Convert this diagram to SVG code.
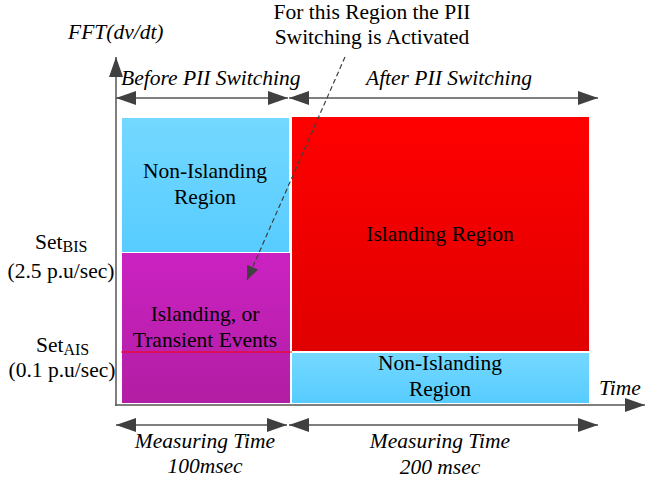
<svg xmlns="http://www.w3.org/2000/svg" width="662" height="480" viewBox="0 0 662 480">
<style>
text{font-family:"Liberation Serif","Times New Roman",serif;font-size:21.5px;fill:#000}
.it{font-style:italic}
.c{text-anchor:middle}
.ln{stroke:#555;stroke-width:1.5;fill:none}
</style>
<defs>
<linearGradient id="gb" x1="0" y1="0" x2="0" y2="1"><stop offset="0" stop-color="#74d8ff"/><stop offset="1" stop-color="#57ccff"/></linearGradient>
<linearGradient id="gm" x1="0" y1="0" x2="0" y2="1"><stop offset="0" stop-color="#cb22c2"/><stop offset="1" stop-color="#b21ea3"/></linearGradient>
<linearGradient id="gr" x1="0" y1="0" x2="0" y2="1"><stop offset="0" stop-color="#ff0000"/><stop offset="1" stop-color="#e00000"/></linearGradient>
<marker id="ah" viewBox="0 0 20 14" refX="20" refY="7" markerWidth="20" markerHeight="14" markerUnits="userSpaceOnUse" orient="auto-start-reverse"><path d="M0,0 L20,7 L0,14 Z" fill="#404040"/></marker>
<marker id="ad" viewBox="0 0 14 12" refX="14" refY="6" markerWidth="14" markerHeight="12" markerUnits="userSpaceOnUse" orient="auto"><path d="M0,0 L14,6 L0,12 Z" fill="#404040"/></marker>
</defs>
<g id="regions">
<g id="nonislanding-before"><rect x="122" y="118" width="167" height="134" fill="url(#gb)"/><text class="c" x="205" y="178">Non-Islanding</text><text class="c" x="205" y="204">Region</text></g>
<g id="islanding-transient"><rect x="122" y="253" width="168" height="150" fill="url(#gm)"/><text class="c" x="205" y="321">Islanding, or</text><text class="c" x="205" y="347">Transient Events</text></g>
<g id="islanding-region"><rect x="292" y="117" width="297" height="234" fill="url(#gr)"/><text class="c" x="440" y="241">Islanding Region</text></g>
<g id="nonislanding-after"><rect x="292" y="353" width="297" height="50" fill="url(#gb)"/><text class="c" x="440" y="370">Non-Islanding</text><text class="c" x="440" y="396">Region</text></g>
<line x1="121" y1="352" x2="292" y2="352" stroke="#ff0000" stroke-width="1.2"/>
</g>
<g id="connectors">
<line class="ln" x1="116" y1="406" x2="116" y2="57" marker-end="url(#ah)"/>
<line class="ln" x1="115" y1="405" x2="645" y2="405" marker-end="url(#ah)"/>
<line class="ln" x1="116" y1="98" x2="288" y2="98" marker-start="url(#ah)" marker-end="url(#ah)"/>
<line class="ln" x1="289" y1="98" x2="598" y2="98" marker-start="url(#ah)" marker-end="url(#ah)"/>
<line class="ln" x1="116" y1="425" x2="287" y2="425" marker-start="url(#ah)" marker-end="url(#ah)"/>
<line class="ln" x1="289" y1="425" x2="598" y2="425" marker-start="url(#ah)" marker-end="url(#ah)"/>
<line x1="345" y1="57" x2="247" y2="280" stroke="#404040" stroke-width="1.2" stroke-dasharray="5,3" marker-end="url(#ad)"/>
</g>
<g id="labels">
<text class="it" x="68" y="39">FFT(dv/dt)</text>
<text class="c" x="372" y="19">For this Region the PII</text>
<text class="c" x="372" y="44">Switching is Activated</text>
<text class="it" x="121" y="85">Before PII Switching</text>
<text class="it" x="366" y="85">After PII Switching</text>
<text x="35" y="249">Set<tspan font-size="16" dy="3">BIS</tspan></text>
<text class="c" x="61" y="278">(2.5 p.u/sec)</text>
<text x="36" y="352">Set<tspan font-size="16" dy="3">AIS</tspan></text>
<text class="c" x="62" y="377">(0.1 p.u/sec)</text>
<text class="it" x="599" y="395">Time</text>
<text class="it c" x="205" y="448">Measuring Time</text>
<text class="it c" x="205" y="473">100msec</text>
<text class="it c" x="440" y="448">Measuring Time</text>
<text class="it c" x="440" y="474">200 msec</text>
</g>
</svg>
